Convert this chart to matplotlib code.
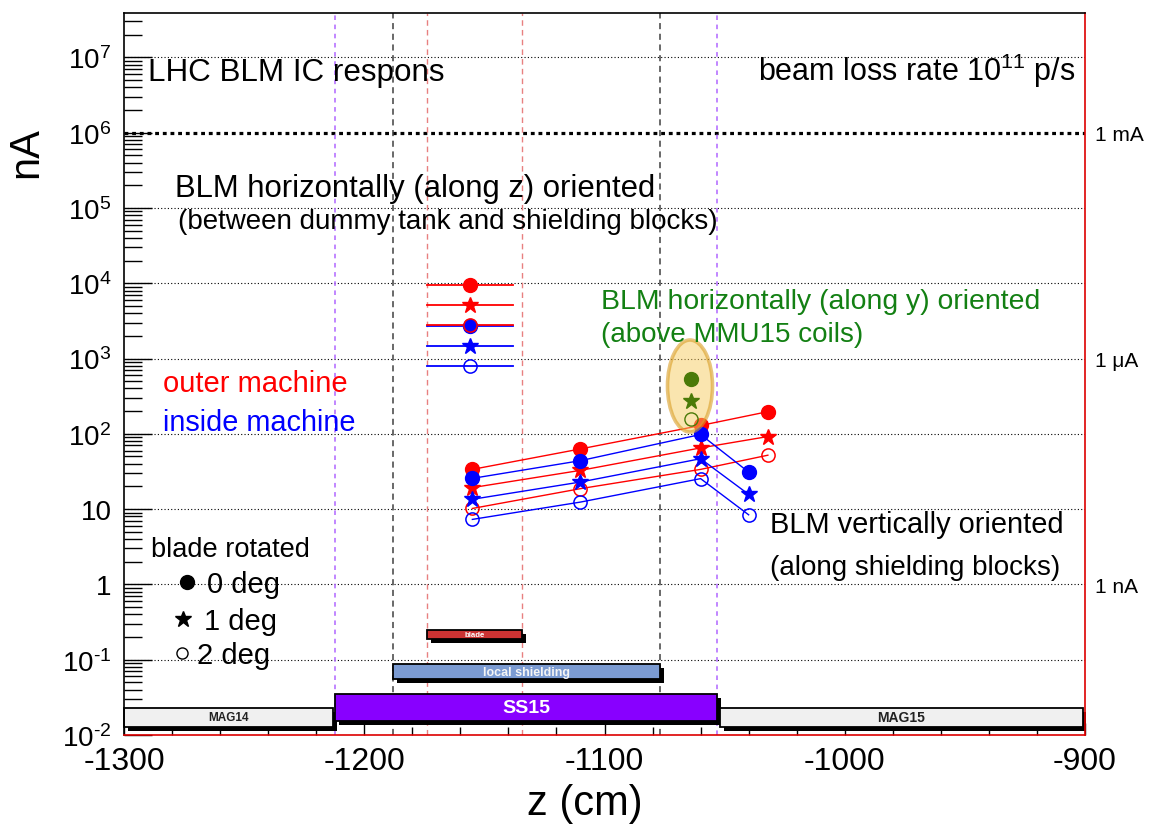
import numpy as np
import matplotlib
matplotlib.use('Agg')
import matplotlib.pyplot as plt
from matplotlib.patches import Rectangle, Ellipse
import matplotlib.patheffects as pe
from matplotlib.ticker import FixedLocator, FuncFormatter, NullFormatter, MultipleLocator

plt.rcParams['font.family'] = ['Liberation Sans', 'DejaVu Sans']
plt.rcParams['mathtext.fontset'] = 'custom'
plt.rcParams['mathtext.rm'] = 'Liberation Sans'
plt.rcParams['mathtext.it'] = 'Liberation Sans:italic'
plt.rcParams['mathtext.bf'] = 'Liberation Sans:bold'
plt.rcParams['axes.unicode_minus'] = False

# ---------------- data ----------------
# BLM horizontally (along z) oriented: 0, 1, 2 deg blade rotation
z_horiz = -1156
z_horiz_halflen = 18
horiz_outer = [9400, 5100, 2800]
horiz_inside = [2700, 1450, 800]

# BLM vertically oriented (along shielding blocks)
z_vert_outer = [-1155, -1110, -1060, -1032]
vert_outer_0 = [33.7, 63, 129, 197]
vert_outer_1 = [19.3, 32.7, 65, 92]
vert_outer_2 = [10.2, 18.7, 33.7, 52]
z_vert_inside = [-1155, -1110, -1060, -1040]
vert_inside_0 = [25.6, 44, 98, 31]
vert_inside_1 = [13.5, 22.9, 46.7, 15.7]
vert_inside_2 = [7.3, 12.4, 25.4, 8.4]

# BLM horizontally (along y) oriented, above MMU15 coils
z_y_oriented = -1064
y_oriented = [540, 274, 156]

# machine elements (z extents, cm)
elem_names = ['MAG14', 'SS15', 'MAG15', 'local shielding', 'blade']
elem_z = [(-1300, -1213), (-1212, -1053), (-1052, -901), (-1188, -1077), (-1174, -1134.5)]

legend_labels = ['0 deg', '1 deg', '2 deg']
right_ticks = [1e6, 1e3, 1]
right_labels = ['1 mA', '1 \u03bcA', '1 nA']

# ---------------- figure ----------------
W, H = 1153, 828
fig = plt.figure(figsize=(W / 100, H / 100), dpi=100)
L, R, T, B = 124, 1085, 13.5, 736
ax = fig.add_axes([L / W, 1 - B / H, (R - L) / W, (B - T) / H])
ax.set_xlim(-1300, -900)
ax.set_yscale('log')
ax.set_ylim(1e-2, 3.94e7)


def fpx(x, y):
    return x / W, 1 - y / H


def apx(x, y):
    return (x - L) / (R - L), (B - y) / (B - T)


RED = '#ff0000'
BLUE = '#0000ff'
GREEN_M = '#4a7a08'
GREEN_T = '#138013'

# grid lines (decades)
for e in range(-1, 8):
    if e == 6:
        ax.axhline(10.0 ** e, color='black', lw=2.3, ls=(0, (1.2, 1.2)), zorder=1)
    else:
        ax.axhline(10.0 ** e, color='black', lw=0.8, ls=(0, (1, 2)), zorder=1)

# vertical element boundaries
for zz in elem_z[1]:
    ax.axvline(zz, color='#b066ff', lw=1.1, ls=(0, (3, 3)), zorder=1)
for zz in elem_z[3]:
    ax.axvline(zz, color='#404040', lw=1.1, ls=(0, (4, 3)), zorder=1)
for zz in elem_z[4]:
    ax.axvline(zz, color='#e88080', lw=1.0, ls=(0, (4, 3)), zorder=1)

# machine element boxes
elem_band = [(-1.89, -1.638), (-1.817, -1.462), (-1.895, -1.638), (-1.262, -1.063), (-0.731, -0.607)]
elem_fc = ['#f0f0f0', '#8800ff', '#f0f0f0', '#7b9bd2', '#cc3333']
elem_tc = ['#222222', 'white', '#222222', '#f4f4f4', 'white']
elem_fs = [8.5, 14, 10, 9, 5.6]
for name, (z0, z1), (l0, l1), fc, tc, fs in zip(elem_names, elem_z, elem_band, elem_fc, elem_tc, elem_fs):
    y0, y1 = 10 ** l0, 10 ** l1
    rect = Rectangle((z0, y0), z1 - z0, y1 - y0, facecolor=fc, edgecolor='black', lw=1.3, zorder=3,
                     clip_on=False,
                     path_effects=[pe.SimplePatchShadow(offset=(2.8, -2.8), shadow_rgbFace='black', alpha=1.0),
                                   pe.Normal()])
    ax.add_patch(rect)
    ax.text((z0 + z1) / 2, 10 ** ((l0 + l1) / 2), name, ha='center', va='center', color=tc,
            fontsize=fs, fontweight='bold', zorder=4)

# horizontal (along z) BLM
ms_c, ms_s, ms_o = 10, 12, 9.5
for vals, col in ((horiz_inside, BLUE), (horiz_outer, RED)):
    for v in vals:
        ax.plot([z_horiz - z_horiz_halflen, z_horiz + z_horiz_halflen], [v, v], color=col, lw=1.3, zorder=5)
    ax.plot([z_horiz], [vals[0]], marker='o', ms=ms_c, color=col, ls='none', zorder=6)
    ax.plot([z_horiz], [vals[1]], marker='*', ms=ms_s, color=col, ls='none', zorder=6)
    ax.plot([z_horiz], [vals[2]], marker='o', ms=ms_o, mfc='none', mec=col, mew=1.1, ls='none', zorder=6)

# vertically oriented BLM
for zs, series, col in ((z_vert_outer, (vert_outer_0, vert_outer_1, vert_outer_2), RED),
                        (z_vert_inside, (vert_inside_0, vert_inside_1, vert_inside_2), BLUE)):
    ax.plot(zs, series[0], color=col, lw=1.0, marker='o', ms=ms_c, zorder=5)
    ax.plot(zs, series[1], color=col, lw=1.0, marker='*', ms=ms_s, zorder=5)
    ax.plot(zs, series[2], color=col, lw=1.0, marker='o', ms=ms_o, mfc='none', mec=col, mew=1.1, zorder=5)

# highlight ellipse and green points
cx, cy = apx(690, 387)
ell = Ellipse((cx, cy), 45 / (R - L), 92 / (B - T), transform=ax.transAxes,
              facecolor=(0.97, 0.80, 0.38, 0.5), edgecolor=(0.85, 0.62, 0.15, 0.6), lw=2.6, zorder=7)
ax.add_patch(ell)
ax.plot([z_y_oriented], [y_oriented[0]], marker='o', ms=ms_c, color=GREEN_M, ls='none', zorder=8)
ax.plot([z_y_oriented], [y_oriented[1]], marker='*', ms=ms_s, color=GREEN_M, ls='none', zorder=8)
ax.plot([z_y_oriented], [y_oriented[2]], marker='o', ms=ms_o, mfc='none', mec=GREEN_M, mew=1.0,
        ls='none', zorder=8)

# ---------------- axes styling ----------------
for s in ('left', 'top'):
    ax.spines[s].set_color('black')
for s in ('right', 'bottom'):
    ax.spines[s].set_color('#dd0000')
for s in ax.spines.values():
    s.set_linewidth(1.2)
    s.set_zorder(10)

ax.xaxis.set_major_locator(MultipleLocator(100))
ax.xaxis.set_minor_locator(MultipleLocator(20))
ax.yaxis.set_major_locator(FixedLocator([10.0 ** e for e in range(-2, 8)]))
ax.yaxis.set_minor_locator(FixedLocator([m * 10.0 ** e for e in range(-2, 8) for m in range(2, 10)]))
ax.yaxis.set_minor_formatter(NullFormatter())


def yfmt(v, pos):
    e = int(round(np.log10(v)))
    if e == 0:
        return '1'
    if e == 1:
        return '10'
    if e < 0:
        return '$10^{\u2010%d}$' % (-e)
    return r'$10^{%d}$' % e


ax.yaxis.set_major_formatter(FuncFormatter(yfmt))
ax.tick_params(axis='x', which='major', direction='in', length=9, width=1.0, labelsize=23, pad=8,
               bottom=True, top=False)
ax.tick_params(axis='x', which='minor', direction='in', length=6, width=1.0, bottom=True, top=False)
ax.tick_params(axis='y', which='major', direction='in', length=20, width=1.0, labelsize=20, pad=9,
               left=True, right=True)
ax.tick_params(axis='y', which='minor', direction='in', length=13, width=1.0, left=True, right=True)

ax2 = ax.twinx()
ax2.set_yscale('log')
ax2.set_ylim(ax.get_ylim())
ax2.yaxis.set_major_locator(FixedLocator(right_ticks))
ax2.yaxis.set_major_formatter(FuncFormatter(lambda v, p: right_labels[right_ticks.index(v)]
                                            if v in right_ticks else ''))
ax2.yaxis.set_minor_locator(FixedLocator([]))
ax2.tick_params(axis='y', which='major', length=0, labelsize=15, pad=7)
for s in ax2.spines.values():
    s.set_visible(False)

# axis titles
fig.text(*fpx(26, 153), 'nA', rotation=90, fontsize=30, ha='center', va='center')
fig.text(*fpx(585, 804), 'z (cm)', fontsize=30, ha='center', va='center')

# ---------------- annotations ----------------
fig.text(*fpx(148, 81), 'LHC BLM IC respons', fontsize=22.6, va='baseline')
fig.text(*fpx(1075, 81), r'beam loss rate 10$^{11}$ p/s', fontsize=22, va='baseline', ha='right')
fig.text(*fpx(175, 197), 'BLM horizontally (along z) oriented', fontsize=22.4, va='baseline')
fig.text(*fpx(178, 229), '(between dummy tank and shielding blocks)', fontsize=20, va='baseline')
fig.text(*fpx(601, 309), 'BLM horizontally (along y) oriented', fontsize=20.4, va='baseline', color=GREEN_T)
fig.text(*fpx(601, 342), '(above MMU15 coils)', fontsize=20, va='baseline', color=GREEN_T)
fig.text(*fpx(163, 392), 'outer machine', fontsize=21, va='baseline', color=RED)
fig.text(*fpx(163, 431), 'inside machine', fontsize=20.8, va='baseline', color=BLUE)
fig.text(*fpx(770, 533), 'BLM vertically oriented', fontsize=20.9, va='baseline')
fig.text(*fpx(770, 575), '(along shielding blocks)', fontsize=20, va='baseline')

# legend
fig.text(*fpx(151, 557), 'blade rotated', fontsize=19.6, va='baseline')
leg_marker_px = [(186.5, 583), (183, 620), (181.5, 654)]
leg_text_px = [(207, 593), (204, 630), (197, 664)]
leg_styles = [dict(marker='o', ms=ms_c, color='black'),
              dict(marker='*', ms=ms_s, color='black'),
              dict(marker='o', ms=ms_o - 1.5, mfc='none', mec='black', mew=1.0)]
for lab, mp, tp, st in zip(legend_labels, leg_marker_px, leg_text_px, leg_styles):
    ax.plot([apx(*mp)[0]], [apx(*mp)[1]], transform=ax.transAxes, clip_on=False, ls='none', zorder=9, **st)
    fig.text(*fpx(*tp), lab, fontsize=21, va='baseline')

fig.savefig('out.png', dpi=100)
